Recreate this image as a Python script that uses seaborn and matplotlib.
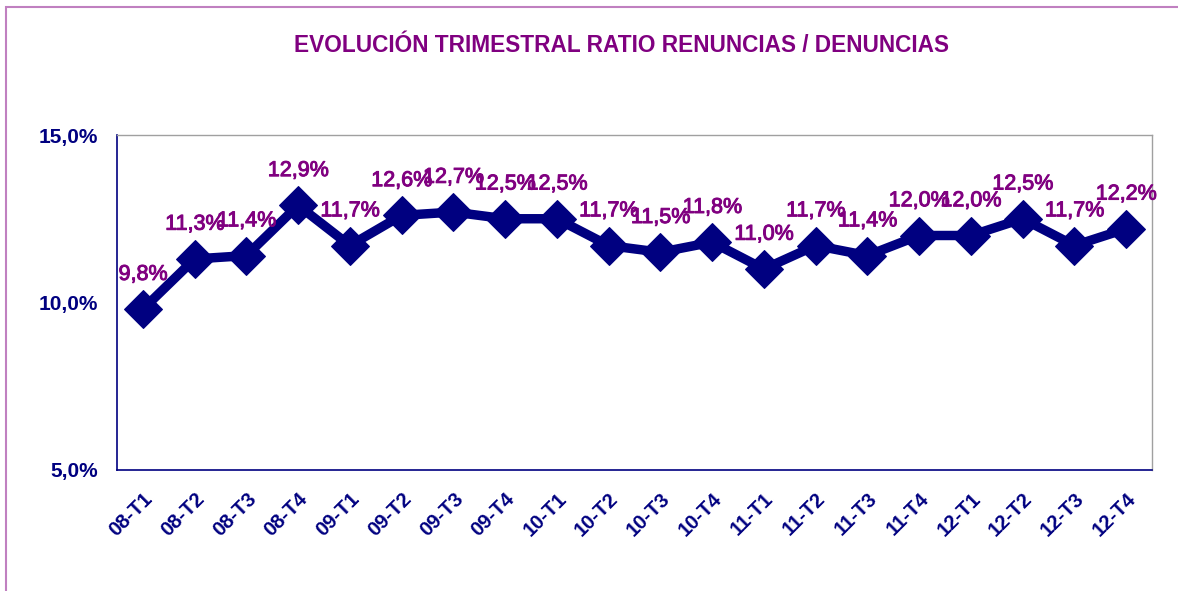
import numpy as np
import pandas as pd
import matplotlib
matplotlib.use('Agg')
import matplotlib.pyplot as plt
import matplotlib.patheffects as pe
import seaborn as sns
from matplotlib.patches import Rectangle

# --- data ---
quarters = ['08-T1', '08-T2', '08-T3', '08-T4', '09-T1', '09-T2', '09-T3', '09-T4',
            '10-T1', '10-T2', '10-T3', '10-T4', '11-T1', '11-T2', '11-T3', '11-T4',
            '12-T1', '12-T2', '12-T3', '12-T4']
ratio = [9.8, 11.3, 11.4, 12.9, 11.7, 12.6, 12.7, 12.5, 12.5, 11.7,
         11.5, 11.8, 11.0, 11.7, 11.4, 12.0, 12.0, 12.5, 11.7, 12.2]
y_ticks = [5.0, 10.0, 15.0]
title = 'EVOLUCIÓN TRIMESTRAL RATIO RENUNCIAS / DENUNCIAS'

NAVY = '#000080'
PURPLE = '#800080'

sns.set_style('white')
plt.rcParams['font.family'] = ['Liberation Sans', 'DejaVu Sans']

df = pd.DataFrame({'pos': np.arange(len(quarters)), 'ratio': ratio})

fig = plt.figure(figsize=(11.78, 5.91), dpi=100)
ax = fig.add_axes([117 / 1178, 1 - 470 / 591, (1152 - 117) / 1178, (470 - 135) / 591])

sns.lineplot(data=df, x='pos', y='ratio', ax=ax, color=NAVY, linewidth=6.8,
             marker='D', markersize=19, markeredgecolor=NAVY, markerfacecolor=NAVY)

# value labels above each point (slightly thickened, like the original)
for x, v in zip(df['pos'], df['ratio']):
    ax.annotate(f'{v:.1f}%'.replace('.', ','), (x, v), xytext=(0, 25),
                textcoords='offset points', ha='center', va='center',
                color=PURPLE, fontsize=15.5,
                path_effects=[pe.withStroke(linewidth=0.7, foreground=PURPLE)])

ax.set_xlim(-0.5, len(quarters) - 0.5)
ax.set_ylim(5, 15)
ax.set_yticks(y_ticks)
ax.set_yticklabels([f'{t:.1f}%'.replace('.', ',') for t in y_ticks],
                   fontsize=15, fontweight='bold', color=NAVY)

# category boundaries get the tick marks, centres get the labels
ax.set_xticks(np.arange(len(quarters) + 1) - 0.5)
ax.set_xticklabels([])
ax.set_xticks(np.arange(len(quarters)), minor=True)
ax.set_xticklabels(quarters, minor=True, rotation=45, ha='right',
                   rotation_mode='anchor', fontsize=14.5, fontweight='bold', color=NAVY)
ax.tick_params(axis='x', which='major', direction='out', length=6, color=NAVY, width=1.2)
ax.tick_params(axis='x', which='minor', length=0, pad=14)
ax.tick_params(axis='y', direction='out', length=6, color=NAVY, width=1.2, pad=8)
ax.set_xlabel('')
ax.set_ylabel('')

for side in ['left', 'bottom']:
    ax.spines[side].set_color(NAVY)
    ax.spines[side].set_linewidth(1.2)
for side in ['top', 'right']:
    ax.spines[side].set_color('#a0a0a0')
    ax.spines[side].set_linewidth(1.0)

fig.text(621 / 1178, 1 - 46 / 591, title, ha='center', va='center',
         fontsize=16.3, fontweight='bold', color=PURPLE)

# purple frame around the chart
fig.patches.append(Rectangle((6 / 1178, -0.05), 1.2, 1 - 7 / 591 + 0.05,
                             transform=fig.transFigure, fill=False,
                             edgecolor='#c080c0', linewidth=1.5))

fig.savefig('out.png', dpi=100)
